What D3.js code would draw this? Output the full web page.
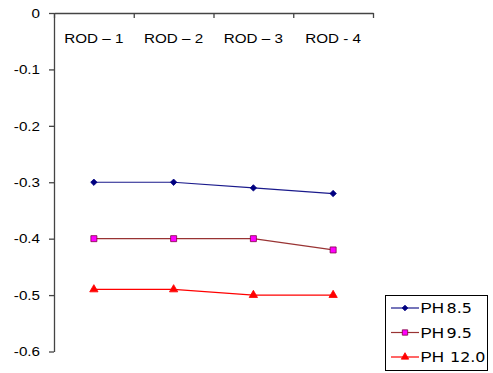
<!DOCTYPE html>
<html>
<head>
<meta charset="utf-8">
<script src="https://cdn.jsdelivr.net/npm/d3@7"></script>
<style>
  html, body { margin: 0; padding: 0; background: #fff; }
  svg { display: block; }
  text { font-family: "Liberation Sans", Arial, sans-serif; fill: #000; }
</style>
</head>
<body>
<svg id="chart" width="493" height="373"></svg>
<script>
// Data
const categories = ["ROD – 1", "ROD – 2", "ROD – 3", "ROD - 4"];
const yTicks = [0, -0.1, -0.2, -0.3, -0.4, -0.5, -0.6];
const seriesNames = ["PH", "PH", "PH"];
const seriesNumbers = ["8.5", "9.5", "12.0"];
const ph85 = [-0.30, -0.30, -0.31, -0.32];
const ph95 = [-0.40, -0.40, -0.40, -0.42];
const ph120 = [-0.49, -0.49, -0.50, -0.50];

const series = [
  { values: ph85, line: "#1a1a8c", fill: "#000080", stroke: "#000080", symbol: d3.symbolDiamond2, size: 26 },
  { values: ph95, line: "#993333", fill: "#ff00ff", stroke: "#800040", symbol: d3.symbolSquare, size: 36 },
  { values: ph120, line: "#ff0000", fill: "#ff0000", stroke: "#ff0000", symbol: d3.symbolTriangle, size: 30 }
];

const svg = d3.select("#chart");
const stretch = 1.17;
const axisColor = "#444";

const x = d3.scaleBand().domain(categories).range([54, 373]).paddingInner(0).paddingOuter(0);
const y = d3.scaleLinear().domain([-0.6, 0]).range([351.5, 13]);

// Y axis (line + ticks)
const yAxis = svg.append("g")
  .attr("transform", "translate(54,0)")
  .call(d3.axisLeft(y).tickValues(yTicks).tickSize(5).tickSizeOuter(0).tickFormat(""));
yAxis.selectAll("path, line").attr("stroke", axisColor).attr("stroke-width", 1.3);

// Y tick labels
yTicks.forEach(v => {
  svg.append("text")
    .attr("transform", `translate(40,${y(v)}) scale(${stretch},1)`)
    .attr("text-anchor", "end")
    .attr("dy", "0.36em")
    .attr("font-size", 13)
    .text(v === 0 ? "0" : v.toFixed(1));
});

// Top category axis with ticks at band boundaries
const bounds = categories.map(c => x(c)).concat([x(categories[categories.length - 1]) + x.bandwidth()]);
const boundScale = d3.scaleLinear().domain([0, bounds.length - 1]).range([bounds[0], bounds[bounds.length - 1]]);
const xAxis = svg.append("g")
  .attr("transform", `translate(0,${y(0)})`)
  .call(d3.axisTop(boundScale).tickValues(d3.range(bounds.length)).tickSize(-5).tickSizeOuter(0).tickFormat(""));
xAxis.selectAll("path, line").attr("stroke", axisColor).attr("stroke-width", 1.3);

// Category labels
categories.forEach(c => {
  svg.append("text")
    .attr("transform", `translate(${x(c) + x.bandwidth() / 2},42.5) scale(${stretch},1)`)
    .attr("text-anchor", "middle")
    .attr("font-size", 13)
    .text(c);
});

// Lines and markers
const line = d3.line()
  .x((d, i) => x(categories[i]) + x.bandwidth() / 2)
  .y(d => y(d));

series.forEach(s => {
  svg.append("path")
    .datum(s.values)
    .attr("fill", "none")
    .attr("stroke", s.line)
    .attr("stroke-width", 1.2)
    .attr("d", line);
  svg.selectAll(null)
    .data(s.values)
    .join("path")
    .attr("transform", (d, i) => `translate(${x(categories[i]) + x.bandwidth() / 2},${y(d)})`)
    .attr("d", d3.symbol().type(s.symbol).size(s.size))
    .attr("fill", s.fill)
    .attr("stroke", s.stroke)
    .attr("stroke-width", 0.8);
});

// Legend
const legend = svg.append("g");
legend.append("rect")
  .attr("x", 385.5).attr("y", 295.5)
  .attr("width", 102).attr("height", 75)
  .attr("fill", "#fff").attr("stroke", "#000").attr("stroke-width", 1);

series.forEach((s, i) => {
  const ly = 308 + i * 24.5;
  legend.append("line")
    .attr("x1", 391).attr("x2", 419).attr("y1", ly).attr("y2", ly)
    .attr("stroke", s.line).attr("stroke-width", 1.2);
  legend.append("path")
    .attr("transform", `translate(405,${ly})`)
    .attr("d", d3.symbol().type(s.symbol).size(s.size * 0.8))
    .attr("fill", s.fill).attr("stroke", s.stroke).attr("stroke-width", 0.8);
  legend.append("text")
    .attr("transform", `translate(420.5,${ly}) scale(${stretch},1)`)
    .attr("dy", "0.36em")
    .attr("font-size", 14.5)
    .text(seriesNames[i]);
  legend.append("text")
    .attr("transform", `translate(${i === 2 ? 450 : 446.5},${ly}) scale(1.1,1)`)
    .attr("dy", "0.36em")
    .attr("font-size", 14.5)
    .style("font-family", "'DejaVu Sans', Verdana, sans-serif")
    .text(seriesNumbers[i]);
});
</script>
</body>
</html>
